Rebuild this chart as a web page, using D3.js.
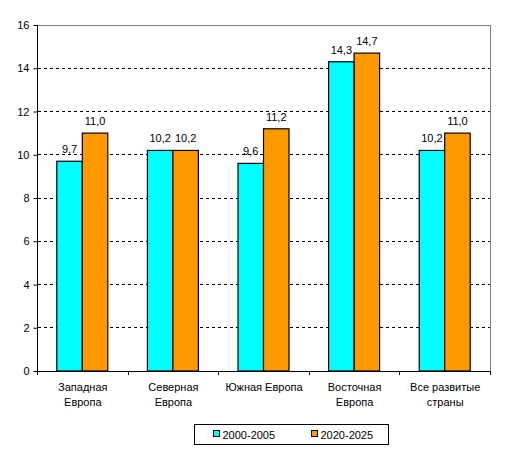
<!DOCTYPE html>
<html><head><meta charset="utf-8">
<script src="https://cdn.jsdelivr.net/npm/d3@7"></script>
<style>body{margin:0;background:#fff}svg{display:block}text{font-family:"Liberation Sans",Arial,sans-serif;font-size:11px;fill:#000}</style>
</head><body><svg id="c" width="505" height="454"></svg>
<script>
const categories = [["Западная","Европа"],["Северная","Европа"],["Южная Европа"],["Восточная","Европа"],["Все развитые","страны"]];
const series = ["2000-2005","2020-2025"];
const values2000 = [9.7,10.2,9.6,14.3,10.2];
const values2020 = [11.0,10.2,11.2,14.7,11.0];
const yTicks = [0,2,4,6,8,10,12,14,16];
const colors = ["#00FFFF","#FF9900"];

const svg = d3.select("#c");
const L=37.5,R=490.5,T=25,B=371;
const x = d3.scaleBand().domain(d3.range(categories.length)).range([L,R]);
const y = d3.scaleLinear().domain([0,16]).range([B,T]);
const barW = 25.5;

// grid
svg.selectAll(".g").data(yTicks.filter(d=>d>0&&d<16)).enter().append("line")
 .attr("x1",L).attr("x2",R).attr("y1",d=>y(d)).attr("y2",d=>y(d))
 .attr("stroke","#000").attr("stroke-dasharray","3,3").attr("shape-rendering","crispEdges");
// border top/right
svg.append("path").attr("d",`M${L},${y(16)}H${R}V${B}`).attr("fill","none").attr("stroke","#808080").attr("shape-rendering","crispEdges");

const data = [values2000, values2020];
data.forEach((vals,si)=>{
  const g = svg.append("g");
  g.selectAll("rect").data(vals).enter().append("rect")
   .attr("x",(d,i)=>x(i)+x.bandwidth()/2 - barW + si*barW - 0.5)
   .attr("y",d=>y(d)).attr("width",barW).attr("height",d=>B-y(d))
   .attr("fill",colors[si]).attr("stroke","#000").attr("stroke-width",1.2);
  g.selectAll("text").data(vals).enter().append("text")
   .attr("x",(d,i)=>x(i)+x.bandwidth()/2 - barW/2 + si*barW - 0.5)
   .attr("y",d=>y(d)-8).attr("text-anchor","middle")
   .text(d=>d.toFixed(1).replace(".",","));
});

// axes
const ya = d3.axisLeft(y).tickValues(yTicks).tickSize(4).tickFormat(d=>d);
const yg = svg.append("g").attr("transform",`translate(${L},0)`).call(ya);
yg.select(".domain").attr("stroke","#000").attr("d",`M0,${T}V${B}`);
yg.selectAll("text").attr("x",-8).style("font-family",null).style("font-size",null).attr("font-size",null).attr("font-family",null);
yg.attr("font-size",null).attr("font-family",null);

const xg = svg.append("g").attr("transform",`translate(0,${B})`);
xg.append("line").attr("x1",L).attr("x2",R).attr("stroke","#000").attr("shape-rendering","crispEdges");
const ticksX = d3.range(categories.length+1).map(i=>L+i*x.step());
xg.selectAll(".t").data(ticksX).enter().append("line").attr("x1",d=>d).attr("x2",d=>d).attr("y1",0).attr("y2",4).attr("stroke","#000").attr("shape-rendering","crispEdges");
categories.forEach((lines,i)=>{
  const t = xg.append("text").attr("text-anchor","middle").attr("transform",`translate(${x(i)+x.bandwidth()/2},0)`);
  lines.forEach((s,k)=>t.append("tspan").attr("x",0).attr("y",20+k*15).text(s));
});

// legend
const lg = svg.append("g");
lg.append("rect").attr("x",194.5).attr("y",424.5).attr("width",194).attr("height",20).attr("fill","#fff").attr("stroke","#000");
const lx=[213.5,311.5];
series.forEach((s,i)=>{
  lg.append("rect").attr("x",lx[i]).attr("y",430.5).attr("width",6).attr("height",6).attr("fill",colors[i]).attr("stroke","#000");
  lg.append("text").attr("x",lx[i]+9).attr("y",438.5).text(s);
});
</script></body></html>
